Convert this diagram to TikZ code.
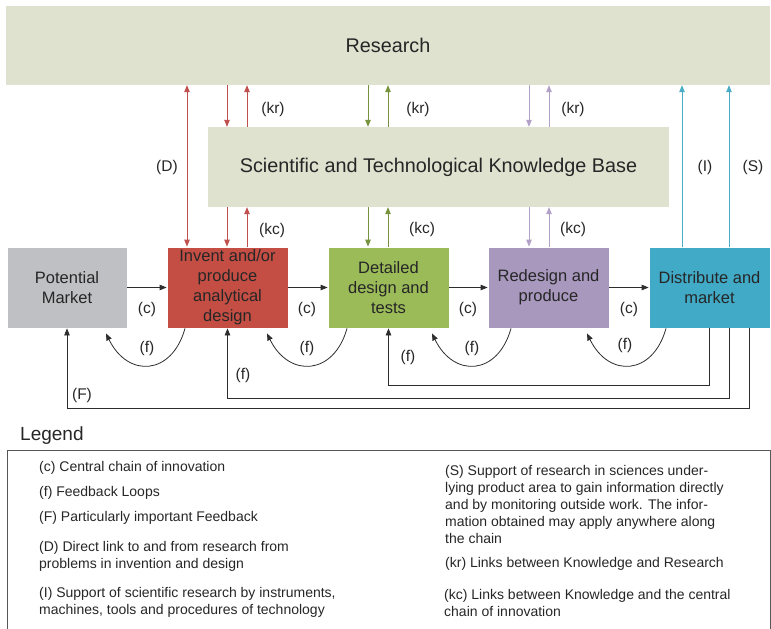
\documentclass[tikz,border=0pt]{standalone}
\usepackage{fontspec}
\setmainfont{Liberation Sans}
\usetikzlibrary{arrows.meta,calc}

\definecolor{basefill}{RGB}{222,226,207}
\definecolor{marketfill}{RGB}{190,192,196}
\definecolor{inventfill}{RGB}{196,78,68}
\definecolor{designfill}{RGB}{155,187,89}
\definecolor{producefill}{RGB}{168,152,190}
\definecolor{distfill}{RGB}{65,170,198}
\definecolor{redline}{RGB}{192,80,77}
\definecolor{greenline}{RGB}{118,146,60}
\definecolor{purpleline}{RGB}{178,161,199}
\definecolor{blueline}{RGB}{75,172,198}
\definecolor{inkcol}{RGB}{38,38,38}
\definecolor{linecol}{RGB}{45,45,45}

\tikzset{
  bigbox/.style={fill=basefill, draw=none, inner sep=0pt, text=inkcol},
  stagebox/.style={draw=white, line width=0.8pt, minimum width=121pt, minimum height=81pt,
    inner sep=0pt, align=center, text=inkcol,
    font=\fontsize{16.5}{20}\selectfont},
  tip/.style={-{Triangle[length=7pt,width=5.5pt]}},
  bothtips/.style={{Triangle[length=7pt,width=5.5pt]}-{Triangle[length=7pt,width=5.5pt]}},
  chain/.style={tip, draw=linecol, line width=0.8pt},
  fb/.style={tip, draw=linecol, line width=0.8pt},
  link/.style={tip, line width=0.8pt},
  lbl/.style={text=inkcol, font=\fontsize{15.5}{18}\selectfont, inner sep=0pt},
  legtext/.style={text=inkcol, font=\fontsize{14}{17}\selectfont, align=left, inner sep=0pt, anchor=west}
}

\begin{document}
\begin{tikzpicture}[x=1pt,y=-1pt]
\useasboundingbox (0,0) rectangle (771,629);

% top-level blocks
\node[bigbox, minimum width=764pt, minimum height=79pt, font=\fontsize{19.8}{22}\selectfont]
  (research) at (388,45.5) {Research};
\node[bigbox, minimum width=461pt, minimum height=80pt, font=\fontsize{19.8}{22}\selectfont]
  (know) at (438.5,167) {Scientific and Technological Knowledge Base};

% central chain stages
\node[stagebox, fill=marketfill, minimum width=120pt] (market) at (67,287.5) {Potential\\Market};
\node[stagebox, fill=inventfill] (invent) at (227.5,287.5) {Invent and/or\\produce\\analytical\\design};
\node[stagebox, fill=designfill] (design) at (388.5,287.5) {Detailed\\design and\\tests};
\node[stagebox, fill=producefill] (produce) at (548.5,287.5) {Redesign and\\produce};
\node[stagebox, fill=distfill] (dist) at (709.5,287.5) {Distribute and\\market};

% (c) central chain
\draw[chain] (market.east) -- (invent.west);
\draw[chain] (invent.east) -- (design.west);
\draw[chain] (design.east) -- (produce.west);
\draw[chain] (produce.east) -- (dist.west);
\node[lbl] (c1) at (147,309) {(c)};
\node[lbl] (c2) at (307,309) {(c)};
\node[lbl] (c3) at (468,309) {(c)};
\node[lbl] (c4) at (629,309) {(c)};

% (f) short feedback loops
\draw[fb] ([xshift=-42.5pt]invent.south) .. controls +(-13,47) and +(22,45) .. ([xshift=39pt,yshift=-5pt]market.south);
\draw[fb] ([xshift=-41.5pt]design.south) .. controls +(-13,47) and +(22,45) .. ([xshift=39.5pt,yshift=-5pt]invent.south);
\draw[fb] ([xshift=-37.5pt]produce.south) .. controls +(-13,47) and +(22,45) .. ([xshift=43.5pt,yshift=-5pt]design.south);
\draw[fb] ([xshift=-43.5pt]dist.south) .. controls +(-13,47) and +(22,45) .. ([xshift=38.5pt,yshift=-5pt]produce.south);
\node[lbl] (f1) at (147,348) {(f)};
\node[lbl] (f2) at (307,348) {(f)};
\node[lbl] (f3) at (472,348) {(f)};
\node[lbl] (f4) at (625,345) {(f)};

% long feedback from the market end
\draw[fb] ([xshift=-0.5pt]dist.south) -- ++(0,57) -| (design.south);
\draw[fb] ([xshift=19.5pt]dist.south) -- ++(0,70) -| (invent.south);
\draw[fb] ([xshift=39.5pt]dist.south) -- ++(0,80) -| (market.south);
\node[lbl] (f5) at (408,357) {(f)};
\node[lbl] (f6) at (243,375) {(f)};
\node[lbl] (bigF) at (82,395) {(F)};

% (D) direct link
\draw[bothtips, line width=0.8pt, draw=redline, fill=redline]
  (research.south -| 187,0) -- (invent.north -| 187,0);
\node[lbl] (dlab) at (167,167) {(D)};

% (kr) and (kc) links, invention stage
\draw[link, draw=redline, fill=redline] (research.south -| 227,0) -- (know.north -| 227,0);
\draw[link, draw=redline, fill=redline] (know.north -| 247,0) -- (research.south -| 247,0);
\draw[link, draw=redline, fill=redline] (know.south -| 227,0) -- (invent.north -| 227,0);
\draw[link, draw=redline, fill=redline] (invent.north -| 247,0) -- (know.south -| 247,0);

% design stage
\draw[link, draw=greenline, fill=greenline] (research.south -| 368,0) -- (know.north -| 368,0);
\draw[link, draw=greenline, fill=greenline] (know.north -| 388,0) -- (research.south -| 388,0);
\draw[link, draw=greenline, fill=greenline] (know.south -| 368,0) -- (design.north -| 368,0);
\draw[link, draw=greenline, fill=greenline] (design.north -| 388,0) -- (know.south -| 388,0);

% production stage
\draw[link, draw=purpleline, fill=purpleline] (research.south -| 529,0) -- (know.north -| 529,0);
\draw[link, draw=purpleline, fill=purpleline] (know.north -| 549,0) -- (research.south -| 549,0);
\draw[link, draw=purpleline, fill=purpleline] (know.south -| 529,0) -- (produce.north -| 529,0);
\draw[link, draw=purpleline, fill=purpleline] (produce.north -| 549,0) -- (know.south -| 549,0);

\node[lbl] (kr1) at (273,109) {(kr)};
\node[lbl] (kr2) at (418,109) {(kr)};
\node[lbl] (kr3) at (573,109) {(kr)};
\node[lbl] (kc1) at (272,230) {(kc)};
\node[lbl] (kc2) at (422,229) {(kc)};
\node[lbl] (kc3) at (573,229) {(kc)};

% (I) and (S) support of research
\draw[link, draw=blueline, fill=blueline] (dist.north -| 682,0) -- (research.south -| 682,0);
\draw[link, draw=blueline, fill=blueline] (dist.north -| 729,0) -- (research.south -| 729,0);
\node[lbl] (ilab) at (705,167) {(I)};
\node[lbl] (slab) at (753,167) {(S)};

% legend
\node[text=inkcol, font=\fontsize{19}{22}\selectfont, anchor=west, inner sep=0pt] (legtitle) at (20,436) {Legend};
\draw[draw=linecol!80, line width=0.8pt] (7,450) rectangle (770,629.5);
\node[legtext] (lc) at (39,468) {(c) Central chain of innovation};
\node[legtext] (lf) at (39,493) {(f) Feedback Loops};
\node[legtext] (lF) at (39,518) {(F) Particularly important Feedback};
\node[legtext] (lD) at (39,556) {(D) Direct link to and from research from\\problems in invention and design};
\node[legtext] (lI) at (39,602.5) {(I) Support of scientific research by instruments,\\machines, tools and procedures of technology};
\node[legtext] (lS) at (445,504) {(S) Support of research in sciences under-\\lying product area to gain information directly\\and by monitoring outside work. The infor-\\mation obtained may apply anywhere along\\the chain};
\node[legtext] (lkr) at (445,564) {(kr) Links between Knowledge and Research};
\node[legtext] (lkc) at (444,602.5) {(kc) Links between Knowledge and the central\\chain of innovation};
\end{tikzpicture}
\end{document}
